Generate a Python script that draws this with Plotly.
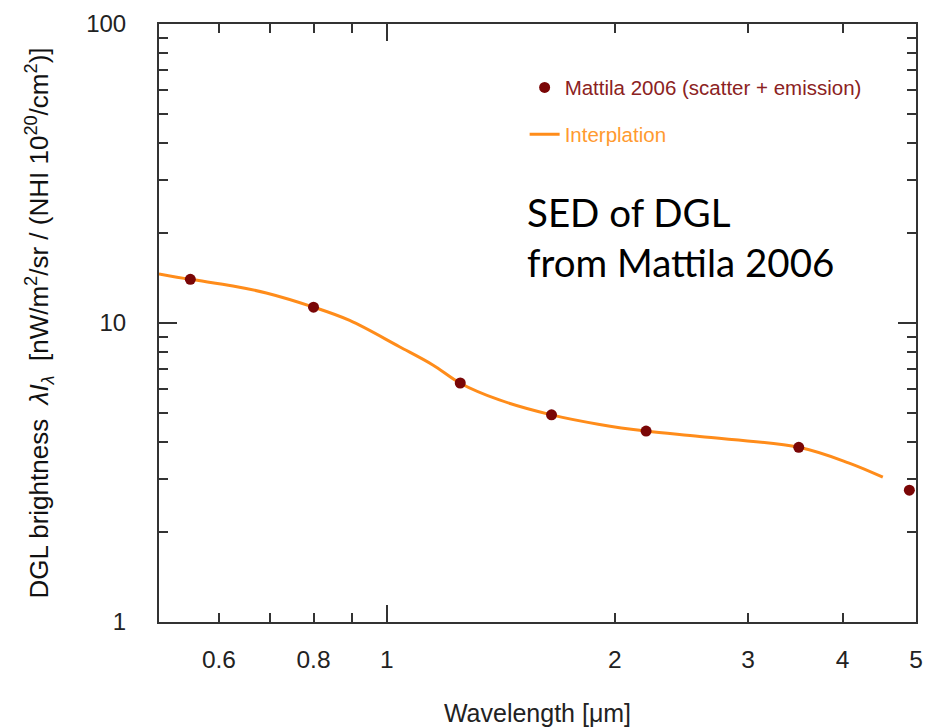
import plotly.graph_objects as go

# Measured points (Mattila 2006)
wl_pts = [0.55, 0.80, 1.25, 1.65, 2.2, 3.5, 4.9]
dgl_pts = [14.0, 11.3, 6.3, 4.93, 4.35, 3.84, 2.76]

# Interpolation curve
wl_curve = [0.5, 0.55, 0.626, 0.693, 0.8, 0.893, 1.039, 1.15, 1.25, 1.408, 1.65, 1.91, 2.2, 2.59, 3.5, 4.08, 4.52]
dgl_curve = [14.6, 14.0, 13.3, 12.6, 11.3, 10.2, 8.33, 7.24, 6.29, 5.53, 4.93, 4.58, 4.35, 4.17, 3.84, 3.40, 3.05]

x_tickvals = [0.6, 0.8, 1, 2, 3, 4, 5]
x_ticktext = ["0.6", "0.8", "1", "2", "3", "4", "5"]
x_minor = [0.7, 0.9]
y_tickvals = [1, 10, 100]
y_ticktext = ["1", "10", "100"]
y_minor = [2, 3, 4, 5, 6, 7, 8, 9, 20, 30, 40, 50, 60, 70, 80, 90]

FONT = "Liberation Sans, Arial, sans-serif"
AX = "#333333"
ORANGE = "#FF8C1A"
DARKRED = "#7A0606"

fig = go.Figure()
fig.add_trace(go.Scatter(
    x=wl_curve, y=dgl_curve, mode="lines", line=dict(color=ORANGE, width=3, shape="spline"),
    name="<span style='color:#FF9A30'>Interplation</span>", legendgroup="b", legendrank=2,
))
fig.add_trace(go.Scatter(
    x=wl_pts, y=dgl_pts, mode="markers", marker=dict(color=DARKRED, size=11),
    name="<span style='color:#8B2222'>Mattila 2006 (scatter + emission)</span>", legendgroup="a", legendrank=1,
))
# helper invisible trace on overlay axis for the long tick at 1
fig.add_trace(go.Scatter(x=[1], y=[1], xaxis="x2", mode="markers", marker=dict(opacity=0), showlegend=False, hoverinfo="skip"))

xr = [-0.30103, 0.69897]
fig.update_layout(
    width=928, height=727,
    margin=dict(l=159, r=12, t=24, b=105),
    paper_bgcolor="white", plot_bgcolor="white",
    font=dict(family=FONT, color="#222222"),
    showlegend=True,
    legend=dict(x=0.483, y=0.927, xanchor="left", yanchor="top", bgcolor="rgba(0,0,0,0)",
                font=dict(size=20.5, family=FONT), traceorder="grouped", tracegroupgap=17),
    xaxis=dict(type="log", range=xr, tickmode="array", tickvals=x_tickvals, ticktext=x_ticktext,
               ticks="inside", ticklen=9, tickwidth=1.5, tickcolor=AX, showline=True, linewidth=2,
               linecolor=AX, mirror="ticks", showgrid=False, zeroline=False, automargin=False,
               tickfont=dict(size=24.5, color="#222222"), ticklabelstandoff=15,
               minor=dict(tickvals=x_minor, ticks="inside", ticklen=9, tickwidth=1.5, tickcolor=AX, showgrid=False),
               title=dict(text="Wavelength [μm]", font=dict(size=25, color="#222222"), standoff=36)),
    xaxis2=dict(type="log", range=xr, overlaying="x", anchor="y", side="bottom", tickmode="array",
                tickvals=[1], ticks="inside", ticklen=17, tickwidth=1.5, tickcolor=AX, showticklabels=False,
                showline=True, linewidth=2, linecolor=AX, mirror="ticks", showgrid=False, zeroline=False,
                automargin=False),
    yaxis=dict(type="log", range=[0, 2], tickmode="array", tickvals=y_tickvals, ticktext=y_ticktext,
               ticks="inside", ticklen=18, tickwidth=1.5, tickcolor=AX, showline=True, linewidth=2,
               linecolor=AX, mirror="ticks", showgrid=False, zeroline=False, automargin=False,
               tickfont=dict(size=24, color="#222222"), ticklabelstandoff=26,
               minor=dict(tickvals=y_minor, ticks="inside", ticklen=9, tickwidth=1.5, tickcolor=AX, showgrid=False),
               title=dict(text="DGL brightness  <i>λI</i><sub><i>λ</i></sub>  [nW/m<sup>2</sup>/sr / (NHI 10<sup>20</sup>/cm<sup>2</sup>)]",
                          font=dict(size=26, color="#111111"), standoff=30)),
    annotations=[dict(
        xref="paper", yref="paper", x=0.484, y=0.728, xanchor="left", yanchor="top", align="left",
        text="SED of DGL<br>from Mattila 2006", showarrow=False,
        font=dict(family="Lato, Open Sans, sans-serif", size=38.5, color="#000000"),
    )],
)

fig.write_html("out.html")
